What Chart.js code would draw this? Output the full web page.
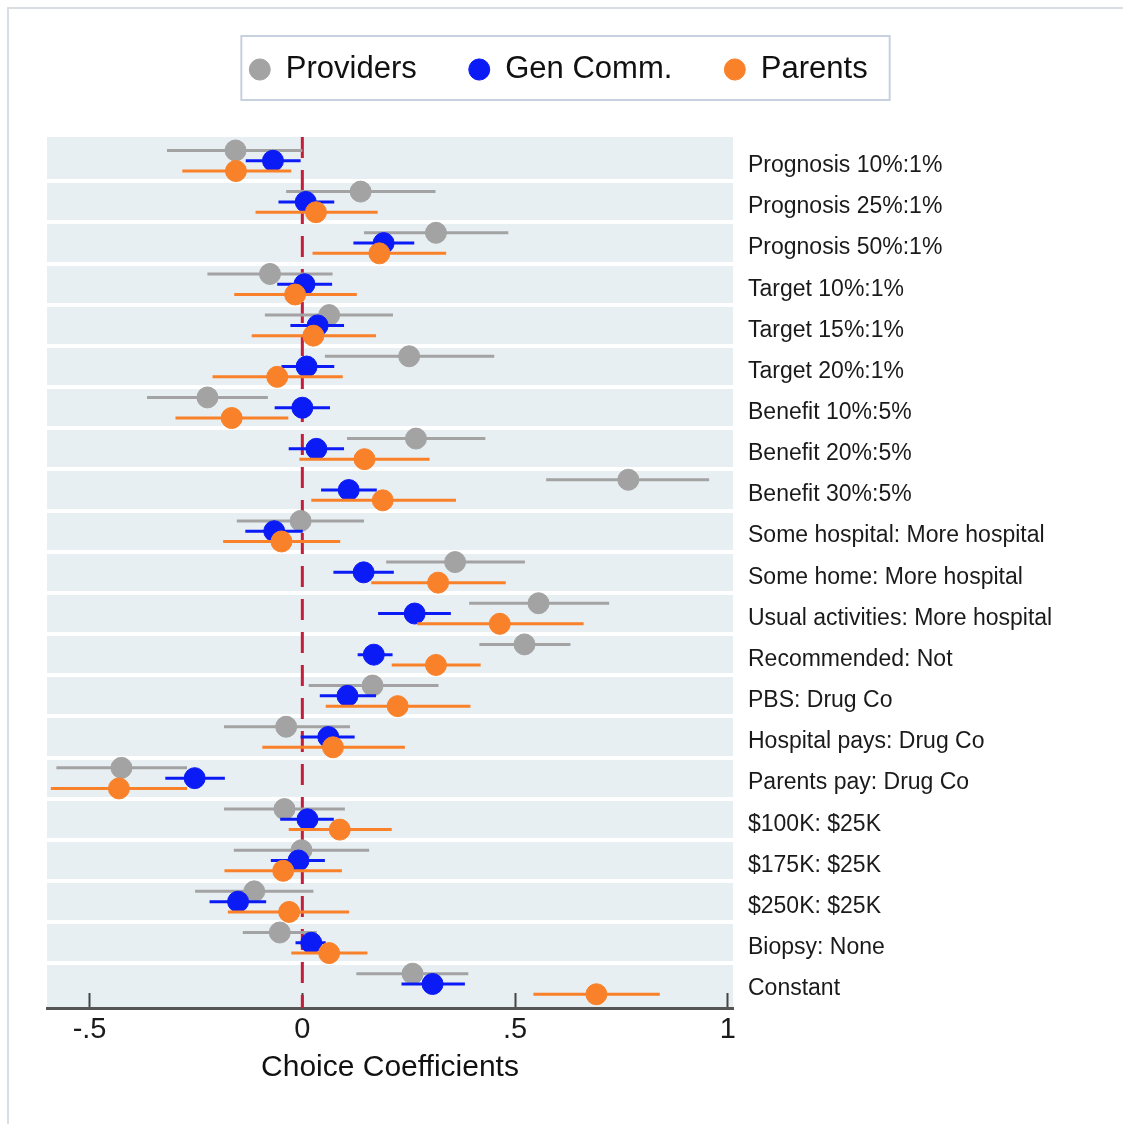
<!DOCTYPE html>
<html>
<head>
<meta charset="utf-8">
<title>Choice Coefficients</title>
<script src="https://cdn.jsdelivr.net/npm/chart.js@4.4.1/dist/chart.umd.min.js"></script>
<style>
  html, body { margin: 0; padding: 0; background: #fff; }
  #frame { position: absolute; left: 7px; top: 7px; width: 1116px; height: 1117px;
           border-left: 2px solid #d9dee5; border-top: 2px solid #d9dee5; }
  #wrap { position: absolute; left: 0; top: 0; width: 1123px; height: 1124px; }
</style>
</head>
<body>
<div id="frame"></div>
<div id="wrap"><canvas id="coefChart"></canvas></div>
<script>
// attribute levels, top to bottom
const attributes = [
  "Prognosis 10%:1%", "Prognosis 25%:1%", "Prognosis 50%:1%",
  "Target 10%:1%", "Target 15%:1%", "Target 20%:1%",
  "Benefit 10%:5%", "Benefit 20%:5%", "Benefit 30%:5%",
  "Some hospital: More hospital", "Some home: More hospital", "Usual activities: More hospital",
  "Recommended: Not", "PBS: Drug Co", "Hospital pays: Drug Co", "Parents pay: Drug Co",
  "$100K: $25K", "$175K: $25K", "$250K: $25K", "Biopsy: None", "Constant"
];

const providersCoef = [-0.157, 0.137, 0.314, -0.076, 0.063, 0.251, -0.223, 0.267, 0.766, -0.004, 0.359, 0.555, 0.522, 0.165, -0.038, -0.425, -0.042, -0.002, -0.113, -0.053, 0.259];
const providersLow  = [-0.318, -0.038, 0.145, -0.223, -0.088, 0.053, -0.365, 0.105, 0.573, -0.154, 0.197, 0.392, 0.416, 0.015, -0.184, -0.578, -0.184, -0.161, -0.252, -0.140, 0.127];
const providersHigh = [0.000, 0.313, 0.484, 0.071, 0.213, 0.451, -0.081, 0.430, 0.956, 0.145, 0.523, 0.721, 0.630, 0.320, 0.112, -0.271, 0.100, 0.157, 0.026, 0.034, 0.390];

const genCommCoef = [-0.069, 0.008, 0.191, 0.005, 0.036, 0.010, 0.000, 0.033, 0.109, -0.066, 0.144, 0.264, 0.168, 0.106, 0.061, -0.253, 0.012, -0.009, -0.151, 0.021, 0.306];
const genCommLow  = [-0.133, -0.056, 0.120, -0.059, -0.028, -0.049, -0.065, -0.032, 0.044, -0.134, 0.073, 0.178, 0.130, 0.041, -0.004, -0.322, -0.052, -0.074, -0.218, -0.016, 0.233];
const genCommHigh = [-0.004, 0.075, 0.263, 0.070, 0.098, 0.075, 0.065, 0.098, 0.175, 0.001, 0.215, 0.349, 0.212, 0.173, 0.123, -0.182, 0.074, 0.053, -0.085, 0.055, 0.382];

const parentsCoef = [-0.156, 0.032, 0.181, -0.017, 0.026, -0.059, -0.166, 0.146, 0.189, -0.049, 0.319, 0.464, 0.314, 0.224, 0.072, -0.431, 0.088, -0.045, -0.031, 0.063, 0.691];
const parentsLow  = [-0.282, -0.110, 0.024, -0.160, -0.119, -0.211, -0.298, -0.007, 0.021, -0.186, 0.162, 0.270, 0.210, 0.055, -0.094, -0.591, -0.032, -0.183, -0.175, -0.026, 0.543];
const parentsHigh = [-0.026, 0.177, 0.338, 0.128, 0.173, 0.095, -0.033, 0.299, 0.361, 0.089, 0.478, 0.661, 0.419, 0.395, 0.241, -0.271, 0.210, 0.093, 0.110, 0.153, 0.840];

const xTickValues = [-0.5, 0, 0.5, 1];

const yMin = 0.423, yMax = 21.584;
const labelShift = 0.12; // row labels sit a little below the blue marker
const gray = "#a3a3a3", blue = "#0b1bf5", orange = "#f9812a";

Chart.defaults.font.family = '"Liberation Sans", Arial, Helvetica, sans-serif';
Chart.defaults.color = "#1a1a1a";

function points(coef, shift) {
  return coef.map((v, i) => ({ x: v, y: i + 1 + shift }));
}
function ciLines(low, high, shift) {
  return low.flatMap((lo, i) => [{ x: lo, y: i + 1 + shift }, { x: high[i], y: i + 1 + shift }, { x: null, y: null }]);
}
function ciSet(low, high, shift, color, order) {
  return { type: "line", data: ciLines(low, high, shift), borderColor: color, borderWidth: 3,
           pointRadius: 0, fill: false, tension: 0, order: order };
}
function pointSet(label, coef, shift, color, order) {
  return { label: label, data: points(coef, shift), backgroundColor: color, borderColor: color,
           borderWidth: 1, pointRadius: 10.5, pointHoverRadius: 10.5, order: order };
}

const bandPlugin = {
  id: "bands",
  beforeDraw(chart) {
    const a = chart.chartArea, ctx = chart.ctx;
    ctx.save();
    ctx.fillStyle = "#e8eff2";
    ctx.fillRect(a.left, a.top, a.right - a.left, a.bottom - a.top);
    ctx.restore();
  }
};

const legendBoxPlugin = {
  id: "legendBox",
  afterDraw(chart) {
    const hb = chart.legend.legendHitBoxes;
    if (!hb || !hb.length) return;
    const first = hb[0], last = hb[hb.length - 1];
    const ctx = chart.ctx;
    ctx.save();
    ctx.strokeStyle = "#c6d1dd";
    ctx.lineWidth = 2;
    ctx.strokeRect(first.left - 8, first.top - 18, last.left + last.width + 22 - (first.left - 8), first.height + 33);
    ctx.restore();
  }
};

const coefChart = new Chart("coefChart", {
  type: "scatter",
  data: {
    datasets: [
      pointSet("Providers", providersCoef, -0.25, gray, 8),
      pointSet("Gen Comm.", genCommCoef, 0, blue, 6),
      pointSet("Parents", parentsCoef, 0.25, orange, 4),
      ciSet(providersLow, providersHigh, -0.25, gray, 9),
      ciSet(genCommLow, genCommHigh, 0, blue, 7),
      ciSet(parentsLow, parentsHigh, 0.25, orange, 5),
      { type: "line", data: [{ x: 0, y: yMin }, { x: 0, y: yMax }], borderColor: "#c41e3a",
        borderWidth: 3, borderDash: [21, 12], pointRadius: 0, fill: false, order: 10 }
    ]
  },
  options: {
    responsive: true,
    maintainAspectRatio: false,
    animation: false,
    layout: { padding: { top: 2, left: 0, right: 6, bottom: 0 } },
    plugins: {
      tooltip: { enabled: false },
      legend: {
        position: "top",
        labels: {
          filter: item => item.datasetIndex < 3,
          sort: (a, b) => a.datasetIndex - b.datasetIndex,
          usePointStyle: true,
          boxHeight: 15,
          pointStyleWidth: 21,
          padding: 52,
          color: "#111",
          font: { size: 31 }
        }
      }
    },
    scales: {
      x: {
        type: "linear",
        position: "bottom",
        min: -0.6,
        max: 1.012,
        afterBuildTicks: s => { s.ticks = xTickValues.map(v => ({ value: v })); },
        afterFit: s => { s.height = 116; },
        ticks: {
          padding: 20,
          font: { size: 29 },
          color: "#1a1a1a",
          callback: v => v === 0 ? "0" : String(v).replace("0.", ".")
        },
        grid: { drawOnChartArea: false, drawTicks: true, tickLength: -15, tickWidth: 2, tickColor: "#444" },
        border: { display: true, color: "#555", width: 3 },
        title: { display: true, text: "Choice Coefficients", font: { size: 30 }, color: "#111",
                 padding: { top: 0, bottom: 38 } }
      },
      xTop: {
        type: "linear",
        position: "top",
        min: 0,
        max: 1,
        ticks: { display: false },
        grid: { display: false, drawTicks: false },
        border: { display: false },
        afterFit: s => { s.height = 42; }
      },
      y: {
        type: "linear",
        position: "left",
        min: yMin,
        max: yMax,
        reverse: true,
        afterBuildTicks: s => { s.ticks = attributes.slice(1).map((a, i) => ({ value: i + 1.5 })); },
        afterFit: s => { s.width = 47; },
        ticks: { display: false },
        grid: { color: "#ffffff", lineWidth: 4, drawTicks: false },
        border: { display: false }
      },
      yLab: {
        type: "linear",
        position: "right",
        min: yMin - labelShift,
        max: yMax - labelShift,
        reverse: true,
        afterBuildTicks: s => { s.ticks = attributes.map((a, i) => ({ value: i + 1 })); },
        afterFit: s => { s.width = 384; },
        ticks: {
          padding: 15,
          font: { size: 23 },
          color: "#1a1a1a",
          callback: v => attributes[Math.round(v) - 1]
        },
        grid: { display: false, drawTicks: false },
        border: { display: false }
      }
    }
  },
  plugins: [bandPlugin, legendBoxPlugin]
});
</script>
</body>
</html>
